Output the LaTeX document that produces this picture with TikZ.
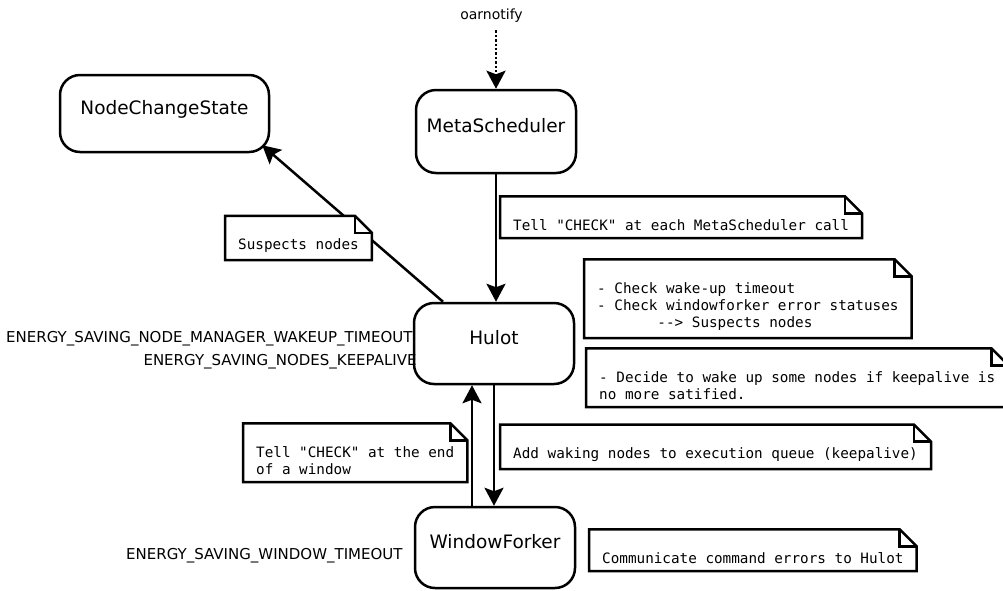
\documentclass[tikz,border=0pt]{standalone}
\usepackage{fontspec}
\setmainfont{DejaVu Sans}
\setmonofont{DejaVu Sans Mono}
\usetikzlibrary{arrows.meta,backgrounds}

\newcommand{\statefont}{\fontsize{18.5}{22}\selectfont}
\newcommand{\notefont}{\ttfamily\fontsize{14.3}{17.2}\selectfont}
\newcommand{\paramfont}{\fontsize{15}{18}\selectfont}

\begin{document}
\begin{tikzpicture}[x=1pt, y=-1pt,
	state node/.style={draw, line width=2.5pt, rounded corners=20pt, minimum width=160pt,
		minimum height=81pt, font=\statefont, text height=14pt, text depth=11.5pt},
	note node/.style={font=\notefont, align=left, inner xsep=13pt, inner ysep=7pt, anchor=south west},
	note frame/.style={draw, fill=white, line width=2.5pt},
	param node/.style={font=\paramfont, inner sep=0pt, anchor=base east},
	flow/.style={line width=2.5pt, -{Stealth[length=18pt, width=19pt, inset=3.5pt]}}]

	\useasboundingbox (0,0) rectangle (1003,590);

	\node[state node, minimum width=209pt, minimum height=77pt] (ncs) at (164.5,113.5) {NodeChangeState};
	\node[state node, minimum height=83pt] (ms) at (496,131.5) {MetaScheduler};
	\node[state node] (hulot) at (494,343.5) {Hulot};
	\node[state node] (wf) at (495,547.5) {WindowForker};
	\node[font=\fontsize{14}{17}\selectfont] (oar) at (491.5,16) {oarnotify};

	\node[param node] (wakeup) at ([yshift=1pt]hulot.west) {ENERGY\_SAVING\_NODE\_MANAGER\_WAKEUP\_TIMEOUT};
	\node[param node] (keepalive) at ([xshift=4pt,yshift=-21.5pt]hulot.west) {ENERGY\_SAVING\_NODES\_KEEPALIVE};
	\node[param node] (window) at ([xshift=-11pt,yshift=-11.5pt]wf.west) {ENERGY\_SAVING\_WINDOW\_TIMEOUT};

	\node[note node] (sus) at (225,260) {Suspects nodes};
	\node[note node] (tmeta) at (500,238) {Tell "CHECK" at each MetaScheduler call};
	\node[note node] (chk) at (584,338) {- Check wake-up timeout\\- Check windowforker error statuses\\\phantom{xxxxxxx}--> Suspects nodes};
	\node[note node] (dec) at (586,407) {- Decide to wake up some nodes if keepalive is\\no more satified.};
	\node[note node] (add) at (500,469) {Add waking nodes to execution queue (keepalive)};
	\node[note node] (twin) at (243,482) {Tell "CHECK" at the end\\of a window};
	\node[note node] (comm) at (589,571) {Communicate command errors to Hulot};

	\draw[flow, line width=2.8pt, dash pattern=on 2.4pt off 2pt, shorten <=4pt] (oar.south -| ms.north) -- (ms.north);
	\draw[flow] (ms.south) -- (ms.south |- hulot.north);
	\draw[flow] (hulot.south) -- (hulot.south |- wf.north);
	\draw[flow] ([xshift=-23pt]wf.north) -- ([xshift=-23pt]wf.north |- hulot.south);

	\begin{scope}[on background layer]
	\draw[flow] ([xshift=-51pt]hulot.north) -- ([xshift=-8pt,yshift=8pt]ncs.south east);
	\foreach \n in {sus,tmeta,chk,dec,add,twin,comm}{
		\draw[note frame] (\n.south west) -- ([yshift=16pt]\n.north west) -- ([xshift=-17pt,yshift=16pt]\n.north east)
			-- ([yshift=-1pt]\n.north east) -- (\n.south east) -- cycle;
		\draw[line width=2.5pt] ([xshift=-17pt,yshift=16pt]\n.north east) |- ([yshift=-1pt]\n.north east);
	}
	\end{scope}
\end{tikzpicture}
\end{document}
